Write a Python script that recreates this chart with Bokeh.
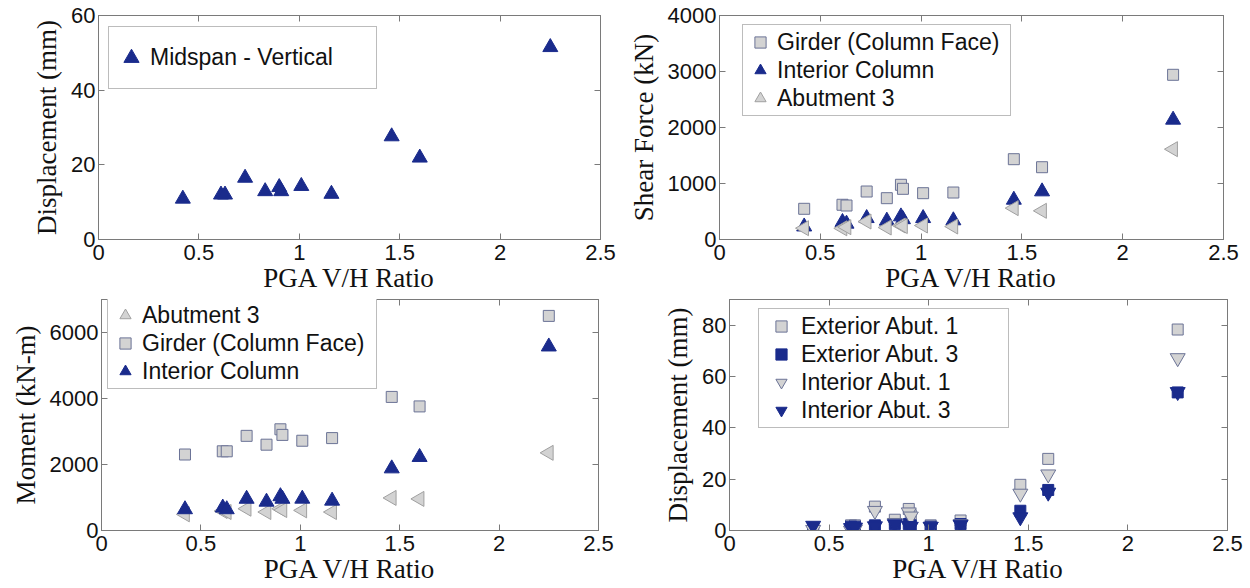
import math
from bokeh.plotting import figure
from bokeh.layouts import column, row
from bokeh.models import (LinearAxis, Legend, LegendItem, NumeralTickFormatter,
                          FixedTicker, Range1d, CustomLabelingPolicy)
from bokeh.embed import file_html
from bokeh.resources import INLINE

# ---------------- data ----------------
pga_ratio = [0.42, 0.61, 0.63, 0.73, 0.83, 0.90, 0.91, 1.01, 1.16, 1.46, 1.60, 2.25]

midspan_vertical_mm = [10.9, 12.0, 12.0, 16.5, 12.9, 14.0, 12.9, 14.3, 12.2, 27.6, 21.9, 51.5]

shear_girder_kn = [548, 620, 607, 857, 738, 977, 905, 827, 839, 1434, 1291, 2941]
shear_interior_kn = [230, 310, 280, 380, 334, 410, 360, 380, 340, 708, 857, 2137]
shear_abut3_kn = [202, 200, 220, 321, 214, 250, 240, 250, 232, 560, 512, 1613]

moment_abut3 = [490, 590, 560, 660, 560, 660, 620, 610, 560, 987, 957, 2353]
moment_girder = [2303, 2400, 2400, 2868, 2600, 3067, 2897, 2720, 2800, 4048, 3760, 6503]
moment_interior = [640, 690, 640, 957, 868, 1035, 957, 960, 900, 1878, 2223, 5572]

disp_ext_abut1 = [1.0, 2.0, 2.0, 9.3, 4.2, 8.4, 6.0, 2.0, 3.9, 17.8, 27.9, 78.3]
disp_ext_abut3 = [1.0, 1.5, 1.5, 2.0, 2.5, 2.5, 2.0, 1.5, 2.5, 7.7, 15.8, 53.8]
disp_int_abut1 = [0.3, 0.0, 0.5, 7.7, 3.0, 7.1, 5.5, 1.5, 2.5, 14.4, 21.9, 67.2]
disp_int_abut3 = [1.9, 1.0, 1.2, 1.7, 2.5, 1.8, 1.5, 1.5, 2.3, 5.2, 14.8, 54.0]

x_ticks = [0, 0.5, 1, 1.5, 2, 2.5]
x_label = "PGA V/H Ratio"

# ---------------- style ----------------
AXIS_COLOR = "#7a7a7a"
NAVY = "#1a2b8c"
GREY = "#d3d3d3"
GREY_EDGE_BLUE = "#6b7396"
GREY_EDGE = "#a0a0a0"
TICK_FONT = "Liberation Sans"
LABEL_FONT = "Liberation Serif"

# mirrored (top/right) axes: tick marks only, no labels drawn
NO_LABELS = CustomLabelingPolicy(code="for (const i of indices) { indices.unset(i) }\nreturn indices")


def tick_only_axis(ticks):
    return LinearAxis(ticker=FixedTicker(ticks=ticks), major_label_policy=NO_LABELS,
                      major_label_text_font_size="0px", major_label_standoff=0,
                      major_tick_in=6, major_tick_out=0, minor_tick_line_color=None,
                      axis_line_color=AXIS_COLOR, major_tick_line_color=AXIS_COLOR)


def make_fig(w, h, bl, br, bt, bb, ymax, yticks, ylabel):
    p = figure(width=w, height=h, x_range=Range1d(0, 2.5), y_range=Range1d(0, ymax),
               output_backend="svg", toolbar_location=None, title=None,
               min_border_left=bl, min_border_right=br,
               min_border_top=bt, min_border_bottom=bb,
               x_axis_label=x_label, y_axis_label=ylabel)
    p.xgrid.visible = False
    p.ygrid.visible = False
    p.outline_line_color = AXIS_COLOR
    p.outline_line_width = 1
    p.background_fill_color = "white"
    p.border_fill_color = "white"
    xa = p.below[0]
    ya = p.left[0]
    xa.ticker = FixedTicker(ticks=x_ticks)
    xa.formatter = NumeralTickFormatter(format="0.[0]")
    ya.ticker = FixedTicker(ticks=yticks)
    for ax in (xa, ya):
        ax.axis_line_color = AXIS_COLOR
        ax.major_tick_line_color = AXIS_COLOR
        ax.major_tick_in = 6
        ax.major_tick_out = 0
        ax.minor_tick_line_color = None
        ax.major_label_text_font = TICK_FONT
        ax.major_label_text_font_size = "22px"
        ax.major_label_text_color = "#111111"
        ax.axis_label_text_font = LABEL_FONT
        ax.axis_label_text_font_size = "27px"
        ax.axis_label_text_font_style = "normal"
        ax.axis_label_text_color = "#111111"
    xa.major_label_standoff = 5
    xa.axis_label_standoff = 0
    ya.major_label_standoff = 3
    ya.axis_label_standoff = 6
    p.add_layout(tick_only_axis(x_ticks), "above")
    p.add_layout(tick_only_axis(yticks), "right")
    return p


def add_legend(p, items, loc, gw, gh, lw, lh, standoff, padding=3):
    leg = Legend(items=items, location=loc, glyph_width=gw, glyph_height=gh,
                 label_width=lw, label_height=lh, label_standoff=standoff,
                 padding=padding, spacing=0, margin=0,
                 border_line_color=AXIS_COLOR, border_line_width=1,
                 background_fill_color="white", background_fill_alpha=1.0,
                 label_text_font=TICK_FONT, label_text_font_size="23px",
                 label_text_color="#111111")
    p.add_layout(leg)
    return leg


# ---------------- panel 1 ----------------
p1 = make_fig(625, 298, 98, 25, 15, 59, 60, [0, 20, 40, 60], "Displacement (mm)")
r1 = p1.scatter(pga_ratio, midspan_vertical_mm, marker="triangle", size=15,
                fill_color=NAVY, line_color=NAVY)
add_legend(p1, [LegendItem(label="Midspan - Vertical", renderers=[r1])],
           (10, 150), 38, 55, 223, 55, 0)

# ---------------- panel 2 ----------------
p2 = make_fig(625, 298, 93, 27, 15, 59, 4000, [0, 1000, 2000, 3000, 4000], "Shear Force (kN)")
r2a = p2.scatter(pga_ratio, shear_girder_kn, marker="square", size=11,
                 fill_color=GREY, line_color=GREY_EDGE_BLUE)
r2b = p2.scatter(pga_ratio, shear_interior_kn, marker="triangle", size=15,
                 fill_color=NAVY, line_color=NAVY)
r2c = p2.scatter(pga_ratio, shear_abut3_kn, marker="triangle", size=15, angle=math.pi / 2,
                 fill_color=GREY, line_color=GREY_EDGE)
add_legend(p2, [LegendItem(label="Girder (Column Face)", renderers=[r2a]),
                LegendItem(label="Interior Column", renderers=[r2b]),
                LegendItem(label="Abutment 3", renderers=[r2c])],
           (23, 123), 28, 28, 230, 28, 3)

# ---------------- panel 3 ----------------
p3 = make_fig(625, 290, 101, 27, 0, 57, 7000, [0, 2000, 4000, 6000], "Moment (kN-m)")
r3a = p3.scatter(pga_ratio, moment_abut3, marker="triangle", size=15, angle=math.pi / 2,
                 fill_color=GREY, line_color=GREY_EDGE)
r3b = p3.scatter(pga_ratio, moment_girder, marker="square", size=11,
                 fill_color=GREY, line_color=GREY_EDGE_BLUE)
r3c = p3.scatter(pga_ratio, moment_interior, marker="triangle", size=15,
                 fill_color=NAVY, line_color=NAVY)
add_legend(p3, [LegendItem(label="Abutment 3", renderers=[r3a]),
                LegendItem(label="Girder (Column Face)", renderers=[r3b]),
                LegendItem(label="Interior Column", renderers=[r3c])],
           (6, 141), 28, 28, 231, 28, 3)

# ---------------- panel 4 ----------------
p4 = make_fig(625, 290, 104, 23, 1, 58, 90, [0, 20, 40, 60, 80], "Displacement (mm)")
r4a = p4.scatter(pga_ratio, disp_ext_abut1, marker="square", size=11,
                 fill_color=GREY, line_color=GREY_EDGE_BLUE)
r4b = p4.scatter(pga_ratio, disp_ext_abut3, marker="square", size=11,
                 fill_color=NAVY, line_color=NAVY)
r4c = p4.scatter(pga_ratio, disp_int_abut1, marker="inverted_triangle", size=15,
                 fill_color=GREY, line_color=GREY_EDGE_BLUE)
r4d = p4.scatter(pga_ratio, disp_int_abut3, marker="inverted_triangle", size=15,
                 fill_color=NAVY, line_color=NAVY)
add_legend(p4, [LegendItem(label="Exterior Abut. 1", renderers=[r4a]),
                LegendItem(label="Exterior Abut. 3", renderers=[r4b]),
                LegendItem(label="Interior Abut. 1", renderers=[r4c]),
                LegendItem(label="Interior Abut. 3", renderers=[r4d])],
           (29, 102), 38, 28, 204, 28, 1)

layout = column(row(p1, p2), row(p3, p4))
open("out.html", "w").write(file_html(layout, INLINE))
